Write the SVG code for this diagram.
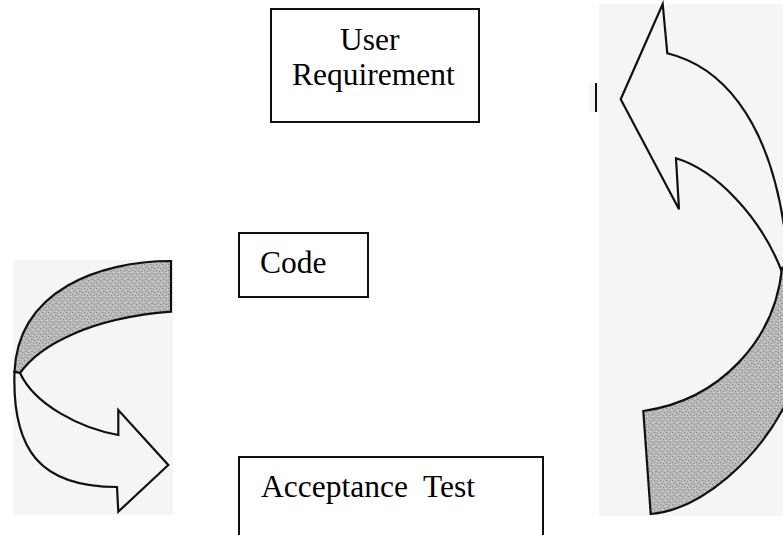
<svg xmlns="http://www.w3.org/2000/svg" width="783" height="535" viewBox="0 0 783 535">
  <style>
    .box { fill: #ffffff; stroke: #111111; stroke-width: 2; }
    .label { font-family: "Liberation Serif", "Times New Roman", serif; font-size: 31.5px; fill: #000000; }
    .panel { fill: #f5f5f5; }
    .ribbon { fill: url(#grain); stroke: #111111; stroke-width: 2.2; }
    .face { fill: #f5f5f5; stroke: #111111; stroke-width: 2.2; }
  </style>
  <defs>
    <!-- stippled grey used on the shaded side of the ribbons -->
    <pattern id="grain" width="6" height="6" patternUnits="userSpaceOnUse">
      <rect width="6" height="6" fill="#bababa"/>
      <rect x="0" y="0" width="1" height="1" fill="#858585"/>
      <rect x="3" y="1" width="1" height="1" fill="#919191"/>
      <rect x="1" y="3" width="2" height="1" fill="#9a9a9a"/>
      <rect x="4" y="4" width="1" height="1" fill="#828282"/>
      <rect x="5" y="2" width="1" height="1" fill="#d6d6d6"/>
      <rect x="2" y="5" width="1" height="1" fill="#d2d2d2"/>
    </pattern>
  </defs>

  <rect width="783" height="535" fill="#ffffff"/>

  <!-- nodes -->
  <g id="user-requirement">
    <rect class="box" x="271" y="9" width="208" height="113"/>
    <text class="label" x="340" y="50">User</text>
    <text class="label" x="292" y="85">Requirement</text>
  </g>

  <g id="code">
    <rect class="box" x="239" y="233" width="129" height="64"/>
    <text class="label" x="260" y="273">Code</text>
  </g>

  <g id="acceptance-test">
    <rect class="box" x="239" y="457" width="304" height="100"/>
    <text class="label" x="261" y="497" xml:space="preserve">Acceptance  Test</text>
  </g>

  <!-- curved block arrows -->
  <g id="connectors">
    <g id="arrow-left">
      <rect class="panel" x="13" y="260" width="160" height="255"/>
      <!-- shaded upper band -->
      <path class="ribbon" d="M171,261 C100,261 18,290 14.5,372 L20,373 C40,345 90,318 171,311.7 Z"/>
      <!-- light lower band with head -->
      <path class="face" d="M14.5,372 C12,450 40,487 117,487 L118.3,511.7 L168.3,465 L118.3,410 L118.3,435 C80,428 35,405 20,373 Z"/>
    </g>

    <g id="arrow-right">
      <rect class="panel" x="599" y="4" width="184" height="512"/>
      <rect class="panel" x="589" y="83" width="10" height="29"/>
      <line x1="596" y1="83" x2="596" y2="112" stroke="#111111" stroke-width="2"/>
      <!-- light upper band with head -->
      <path class="face" d="M662.7,4 L667.3,53.3 C715,65 770,110 786,240 L786,272 L782,272 C760,215 715,170 676,158.3 L679,209.3 L620.7,99.3 Z"/>
      <!-- shaded lower band -->
      <path class="ribbon" d="M782,268 C775,340 720,400 643.3,411 L650.7,514 C700,510 760,460 790,395 L790,262 Z"/>
    </g>
  </g>
</svg>
